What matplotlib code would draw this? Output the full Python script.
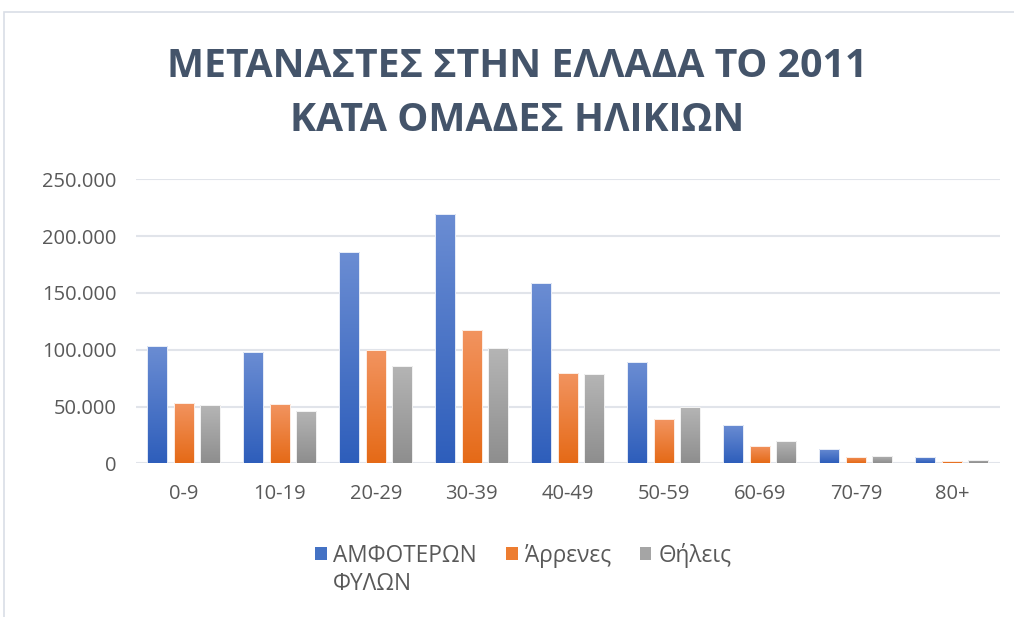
import matplotlib
matplotlib.use("Agg")
import matplotlib.pyplot as plt
import numpy as np
from matplotlib.colors import LinearSegmentedColormap
from matplotlib.patches import Rectangle
from matplotlib.ticker import FuncFormatter

plt.rcParams['font.family'] = ['Open Sans', 'DejaVu Sans']

# data
age_groups = ['0-9', '10-19', '20-29', '30-39', '40-49', '50-59', '60-69', '70-79', '80+']
both_sexes = [103500, 97700, 186200, 219600, 158400, 89100, 34000, 12600, 5300]
males = [53300, 51900, 99700, 117600, 79700, 38700, 15000, 5300, 1800]
females = [51000, 46300, 85600, 101200, 78300, 49800, 19900, 6400, 2900]
series_names = ['ΑΜΦΟΤΕΡΩΝ', 'Άρρενες', 'Θήλεις']
first_name_line2 = 'ΦΥΛΩΝ'

# (top colour, bottom colour, solid colour for legend)
styles = [('#6B8DD3', '#2E5EBB', '#4472C4'),
          ('#F29460', '#E56A17', '#ED7D31'),
          ('#B5B5B5', '#8E8E8E', '#A5A5A5')]

fig = plt.figure(figsize=(10.14, 6.17), dpi=100)
ax = fig.add_axes([0.134, 0.249, 0.852, 0.4604])

# chart frame
fig.patches.append(Rectangle((4 / 1014, -0.1), 1.2, 0.1 + (617 - 12) / 617, transform=fig.transFigure,
                             fill=False, edgecolor='#D9DEE6', linewidth=1.2))

x = np.arange(len(age_groups))
w = 0.21
step = 0.276
handles = []
for i, vals in enumerate([both_sexes, males, females]):
    top, bottom, solid = styles[i]
    bars = ax.bar(x + (i - 1) * step, vals, w, facecolor='none',
                  edgecolor='#FFFFFF', linewidth=0.6, zorder=3)
    cmap = LinearSegmentedColormap.from_list('g%d' % i, [bottom, top])
    for b in bars:
        bx, by = b.get_x(), b.get_y()
        bw, bh = b.get_width(), b.get_height()
        im = ax.imshow(np.linspace(0, 1, 128).reshape(-1, 1), cmap=cmap, origin='lower',
                       extent=[bx, bx + bw, by, by + bh], aspect='auto', zorder=2)
        im.set_clip_path(b)
    handles.append(Rectangle((0, 0), 1, 1, facecolor=solid, edgecolor='none'))

ax.set_xlim(-0.5, len(age_groups) - 0.5)
ax.set_ylim(0, 250000)
ax.set_yticks(np.arange(0, 250001, 50000))
ax.yaxis.set_major_formatter(FuncFormatter(lambda v, p: '0' if v == 0 else f'{int(v):,}'.replace(',', '.')))
ax.set_xticks(x)
ax.set_xticklabels(age_groups)
ax.grid(axis='y', color='#E1E4EA', linewidth=1.5, zorder=0)
ax.set_axisbelow(True)
for s in ax.spines.values():
    s.set_visible(False)
ax.tick_params(axis='both', length=0, labelsize=14.5, labelcolor='#595959')
ax.tick_params(axis='y', pad=14)
ax.tick_params(axis='x', pad=15)

fig.text(0.51, 0.849, 'ΜΕΤΑΝΑΣΤΕΣ ΣΤΗΝ ΕΛΛΑΔΑ ΤΟ 2011\nΚΑΤΑ ΟΜΑΔΕΣ ΗΛΙΚΙΩΝ', ha='center', va='center',
         fontsize=28.3, fontweight='bold', color='#44546A', linespacing=1.5)

leg = fig.legend(handles, series_names, loc='center', bbox_to_anchor=(0.516, 1 - 555 / 617),
                 ncol=3, frameon=False, fontsize=16.3, handlelength=0.5, handleheight=0.5,
                 handletextpad=0.3, columnspacing=1.3, labelcolor='#595959')

# second line of the first legend entry, placed under its first line
fig.canvas.draw()
bb = leg.get_texts()[0].get_window_extent()
fig.text(bb.x0, bb.y0 - 4, first_name_line2, transform=None, ha='left', va='top',
         fontsize=16.3, color='#595959')

fig.savefig('out.png', dpi=100)
